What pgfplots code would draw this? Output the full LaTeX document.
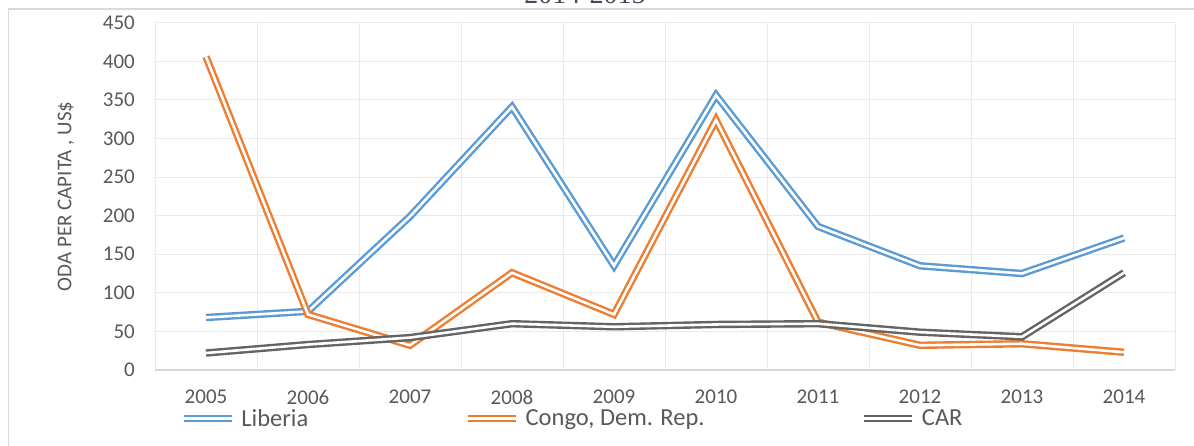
\documentclass[border=0pt]{standalone}
\usepackage{pgfplots}
\pgfplotsset{compat=1.18}
\usepackage{fontspec}
\setmainfont{Carlito}
\newfontfamily\titlefont{Liberation Serif}
\definecolor{cblue}{HTML}{5B9BD5}
\definecolor{corange}{HTML}{ED7D31}
\definecolor{cgray}{HTML}{646464}
\definecolor{txt}{HTML}{595959}
\definecolor{gridc}{HTML}{EAEAEA}
\definecolor{framec}{HTML}{D9D9D9}
\definecolor{ttl}{HTML}{404A58}
\begin{document}
\begin{tikzpicture}
\useasboundingbox (0bp,0bp) rectangle (1194bp,446bp);
\fill[white] (0bp,0bp) rectangle (1194bp,446bp);
\draw[framec, line width=1.5bp] (8.5bp,0bp) -- (8.5bp,437bp) -- (1194bp,437bp);
\node[font=\titlefont\fontsize{28bp}{30bp}\selectfont, text=ttl, anchor=base] at (585bp,442bp) {2014-2015};
\begin{axis}[
  scale only axis, width=1020bp, height=347.3bp,
  at={(155bp,76bp)}, anchor=south west,
  xmin=2004.5, xmax=2014.5, ymin=0, ymax=450,
  xtick={2005,2006,2007,2008,2009,2010,2011,2012,2013,2014},
  xticklabels={2005,2006,2007,2008,2009,2010,2011,2012,2013,2014},
  minor xtick={2004.5,2005.5,2006.5,2007.5,2008.5,2009.5,2010.5,2011.5,2012.5,2013.5,2014.5},
  ytick={0,50,100,150,200,250,300,350,400,450},
  xminorgrids=true, ymajorgrids=true, xmajorgrids=false,
  grid style={draw=gridc, line width=1bp},
  minor grid style={draw=gridc, line width=1bp},
  axis line style={draw=none},
  major tick length=0pt, minor tick length=0pt,
  tick style={draw=none},
  extra y ticks={0}, extra y tick labels={},
  extra y tick style={grid style={draw=framec, line width=1.4bp}},
  /pgf/number format/assume math mode=true,
  tick label style={font=\fontsize{21bp}{24bp}\selectfont, text=txt},
  xticklabel style={inner sep=0pt, anchor=north, yshift=-20bp},
  yticklabel style={inner sep=0pt, anchor=east, xshift=-20bp},
  ylabel={ODA PER CAPITA , US\$},
  every axis y label/.style={at={(axis description cs:0,0.5)}, xshift=-89bp, rotate=90, anchor=center, font=\fontsize{21bp}{24bp}\selectfont, text=txt},
  legend columns=3,
  legend image code/.code={\draw[#1] (0bp,0bp) -- (48bp,0bp);},
  legend style={at={(axis description cs:0.0245,-0.139)}, anchor=west, draw=none, fill=none, inner sep=0pt, outer sep=0pt,
    font=\fontsize{24.5bp}{27bp}\selectfont, text=txt,
    /tikz/every odd column/.append style={column sep=6bp},
    /tikz/every even column/.append style={column sep=156bp},
    nodes={inner sep=0pt}},
  legend cell align=left,
  every axis plot/.append style={line width=2.4bp, double=white, double distance=2.6bp, line join=miter},
]
\addplot[cblue, double=white] coordinates {(2005,68) (2006,76) (2007,199) (2008,341) (2009,135) (2010,356) (2011,186) (2012,135) (2013,125) (2014,171)};
\addlegendentry{Liberia}
\addplot[corange, double=white] coordinates {(2005,406) (2006,72) (2007,32) (2008,126) (2009,72) (2010,324) (2011,62) (2012,32) (2013,34) (2014,23)};
\addlegendentry{Congo, Dem. Rep.}
\addplot[cgray, double=white] coordinates {(2005,22) (2006,33) (2007,42) (2008,60) (2009,56) (2010,59) (2011,60) (2012,49) (2013,43) (2014,126)};
\addlegendentry{CAR}
\end{axis}
\end{tikzpicture}
\end{document}
